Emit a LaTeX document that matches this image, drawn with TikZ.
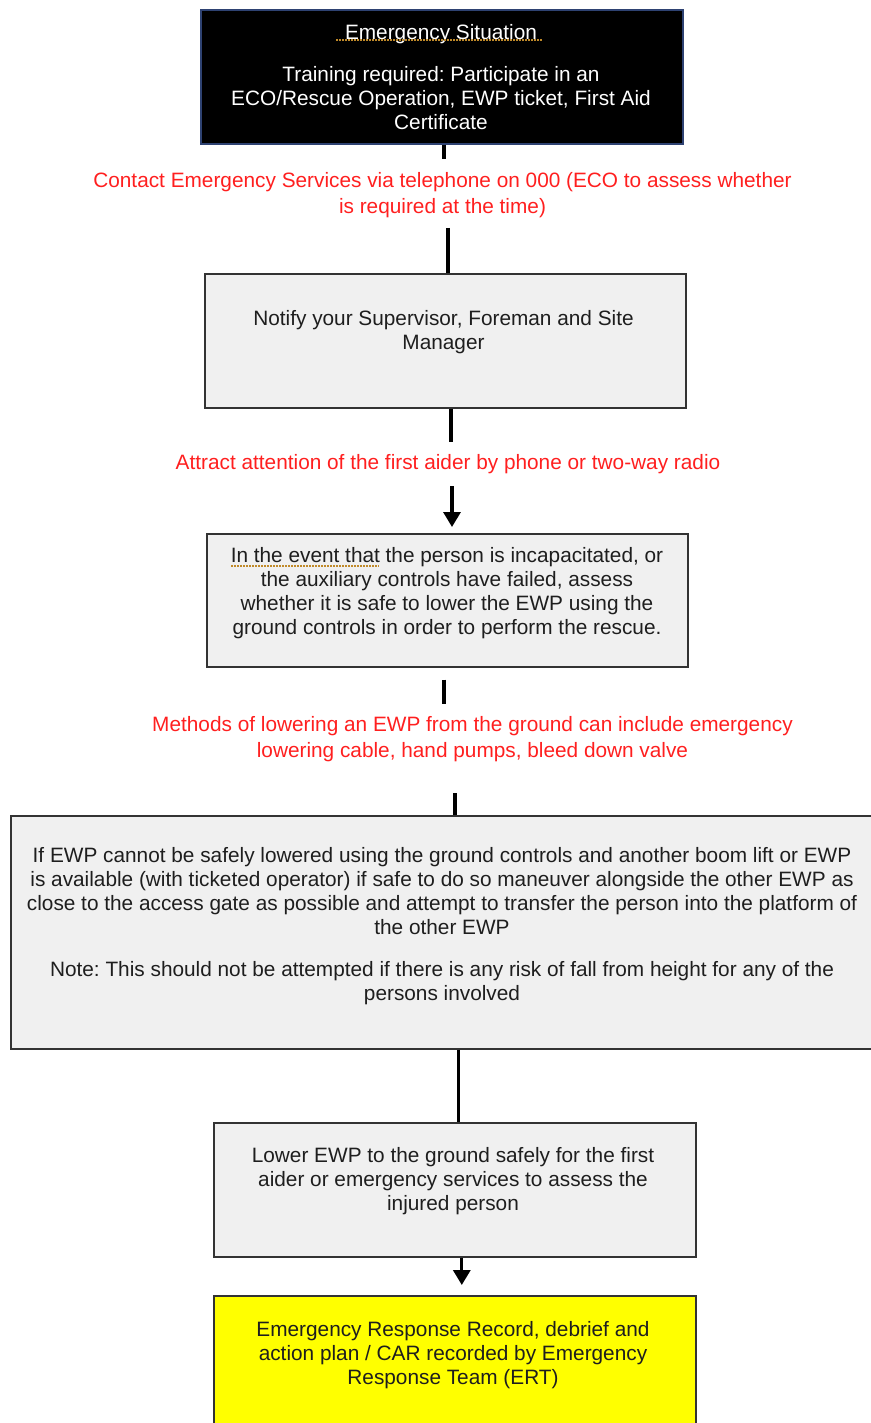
\documentclass[tikz,border=0pt]{standalone}
\usepackage{fontspec}
\setmainfont{Liberation Sans}
\usetikzlibrary{arrows.meta}
\definecolor{boxfill}{HTML}{F0F0F0}
\definecolor{boxline}{HTML}{333333}
\definecolor{navyline}{HTML}{2E4272}
\definecolor{alertred}{HTML}{FF1F1F}
\definecolor{inktext}{HTML}{1E1E1E}
\definecolor{finalfill}{HTML}{FFFF00}
\definecolor{squiggle}{HTML}{C08A2A}
\frenchspacing

\begin{document}
\begin{tikzpicture}[x=1pt,y=-1pt,
  stepbox/.style={draw=boxline,line width=1.6pt,fill=boxfill,inner sep=0pt,anchor=north west},
  bodytext/.style={text=inktext,align=center,inner sep=0pt,font=\fontsize{20.8}{24}\selectfont},
  redtext/.style={text=alertred,align=center,inner sep=0pt,font=\fontsize{20.8}{26}\selectfont},
  conn/.style={line width=3.2pt,draw=black},
  arrowconn/.style={conn,-{Triangle[width=17pt,length=15pt]}},
  spellmark/.style={draw=squiggle,line width=1.6pt,dash pattern=on 1.6pt off 1.4pt}]
\useasboundingbox (0,0) rectangle (870,1423);

% ---- boxes ----
\node[stepbox,draw=navyline,fill=black,minimum width=482pt,minimum height=134pt] (b1) at (200,9) {};
\node[stepbox,minimum width=481pt,minimum height=134pt] (b2) at (204,273) {};
\node[stepbox,minimum width=481pt,minimum height=133pt] (b3) at (206,533) {};
\node[stepbox,minimum width=872pt,minimum height=233pt] (b4) at (10,815) {};
\node[stepbox,minimum width=482pt,minimum height=134pt] (b5) at (213,1122) {};
\node[stepbox,fill=finalfill,minimum width=482pt,minimum height=160pt] (b6) at (213,1295) {};

% ---- box texts ----
\node[bodytext,text=white] (t1) at (441,77) {Emergency Situation\\[18pt]Training required: Participate in an\\ECO/Rescue Operation, EWP ticket, First Aid\\Certificate};
\node[bodytext] (t2) at (443.5,332) {Notify your Supervisor, Foreman and Site\\Manager};
\node[bodytext] (t3) at (447,593) {In the event that the person is incapacitated, or\\the auxiliary controls have failed, assess\\whether it is safe to lower the EWP using the\\ground controls in order to perform the rescue.};
\node[bodytext] (t4) at (442,926) {If EWP cannot be safely lowered using the ground controls and another boom lift or EWP\\is available (with ticketed operator) if safe to do so maneuver alongside the other EWP as\\close to the access gate as possible and attempt to transfer the person into the platform of\\the other EWP\\[18pt]Note: This should not be attempted if there is any risk of fall from height for any of the\\persons involved};
\node[bodytext] (t5) at (453,1181) {Lower EWP to the ground safely for the first\\aider or emergency services to assess the\\injured person};
\node[bodytext] (t6) at (453,1355) {Emergency Response Record, debrief and\\action plan / CAR recorded by Emergency\\Response Team (ERT)};

% spelling marks under flagged words
\draw[spellmark] (336,40) -- (542,40);
\draw[spellmark] (231,566) -- (379,566);

% ---- red instructions between steps ----
\node[redtext] (l1) at (442.5,195.5) {Contact Emergency Services via telephone on 000 (ECO to assess whether\\is required at the time)};
\node[redtext] (l2) at (448,464) {Attract attention of the first aider by phone or two-way radio};
\node[redtext] (l3) at (472.5,739) {Methods of lowering an EWP from the ground can include emergency\\lowering cable, hand pumps, bleed down valve};

% ---- connector break points ----
\coordinate (c1a) at (444,159);
\coordinate (c1b) at (448,228);
\coordinate (c2a) at (451,442);
\coordinate (c2b) at (452,486);
\coordinate (c3a) at (444,704);
\coordinate (c3b) at (455,793);

% ---- connectors ----
\draw[conn] (c1a |- b1.south) -- (c1a);
\draw[conn] (c1b) -- (c1b |- b2.north);
\draw[conn] (c2a |- b2.south) -- (c2a);
\draw[arrowconn,shorten >=6pt] (c2b) -- (c2b |- b3.north);
\draw[conn,shorten <=12pt] (c3a |- b3.south) -- (c3a);
\draw[conn] (c3b) -- (c3b |- b4.north);
\draw[conn] ([xshift=4pt]b5.north |- b4.south) -- ([xshift=4pt]b5.north);
\draw[arrowconn,shorten >=10pt] ([xshift=7pt]b5.south) -- ([xshift=7pt]b6.north);
\end{tikzpicture}
\end{document}
